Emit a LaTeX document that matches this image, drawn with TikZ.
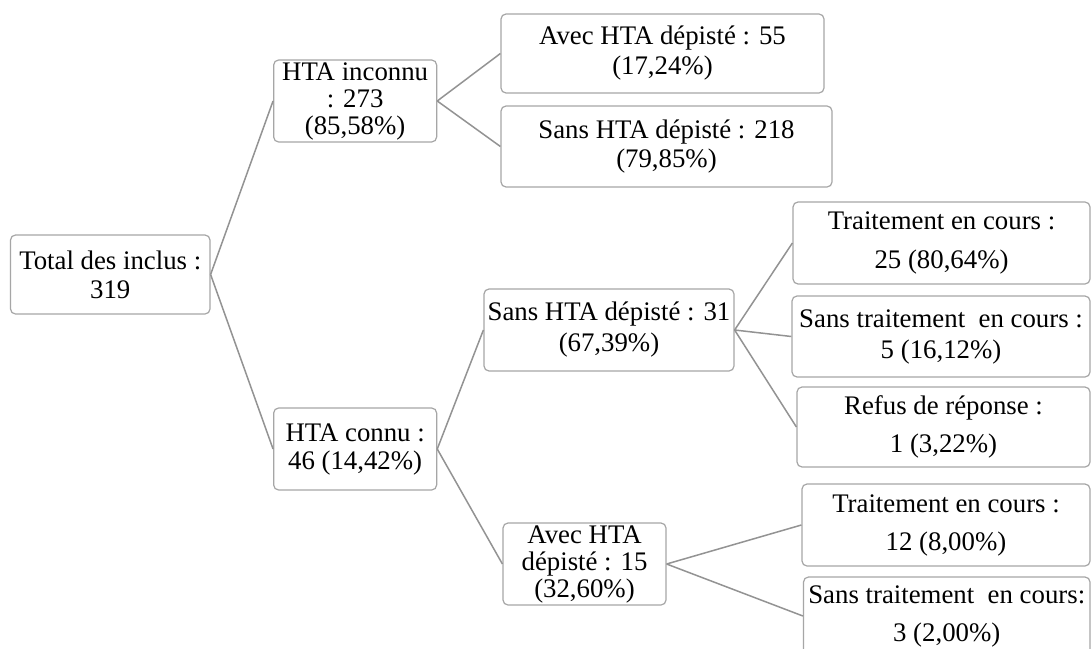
\documentclass[tikz,border=0pt]{standalone}
\usepackage{fontspec}
\setmainfont{Liberation Serif}
\begin{document}
\begin{tikzpicture}[x=0.5pt,y=-0.5pt,
  box/.style={draw=gray!70, rounded corners=2.5pt, line width=0.6pt, align=center, inner sep=0pt},
  link/.style={draw=gray!85, line width=0.75pt},
  fs/.style={font=\fontsize{13.4}{#1}\selectfont}]
\clip (0,0) rectangle (1091,648);
\fill[white] (0,0) rectangle (1091,648);
\node[box, fs=14.5pt, minimum width=99.75pt, minimum height=39.5pt] (tot) at (110.25,274.5) {Total des inclus :\\319};
\node[box, fs=13.5pt, minimum width=81.5pt, minimum height=41pt] (inc) at (355.15,101) {HTA inconnu\\: 273\\(85,58\%)};
\node[box, fs=15pt, minimum width=161.5pt, minimum height=39.5pt] (a55) at (662.5,53.5) {Avec HTA dépisté : 55\\(17,24\%)};
\node[box, fs=14.5pt, minimum width=165.5pt, minimum height=40.5pt] (s218) at (666.5,146.5) {Sans HTA dépisté : 218\\(79,85\%)};
\node[box, fs=14pt, minimum width=81.5pt, minimum height=41pt] (con) at (355.15,449) {HTA connu :\\46 (14,42\%)};
\node[box, fs=15.5pt, minimum width=125pt, minimum height=41pt] (s31) at (609,330) {Sans HTA dépisté : 31\\(67,39\%)};
\node[box, fs=13.5pt, minimum width=81.5pt, minimum height=41pt] (a15) at (584.5,564) {Avec HTA\\dépisté : 15\\(32,60\%)};
\node[box, fs=19.5pt, minimum width=148.5pt, minimum height=41pt] (t25) at (941.5,243) {Traitement en cours :\\25 (80,64\%)};
\node[box, fs=15.5pt, minimum width=149pt, minimum height=40.5pt] (st5) at (941,336.5) {Sans traitement~ en cours :\\5 (16,12\%)};
\node[box, fs=19pt, minimum width=146.5pt, minimum height=40pt] (ref) at (943.5,427) {Refus de réponse :\\1 (3,22\%)};
\node[box, fs=19pt, minimum width=144pt, minimum height=41pt] (t12) at (946,525) {Traitement en cours :\\12 (8,00\%)};
\node[box, fs=19pt, minimum width=143.25pt, minimum height=39pt] (st3) at (946.75,616) {Sans traitement~ en cours:\\3 (2,00\%)};
\draw[link] (tot.east) -- (inc.west);
\draw[link] (tot.east) -- (con.west);
\draw[link] (inc.east) -- (a55.west);
\draw[link] (inc.east) -- (s218.west);
\draw[link] (con.east) -- (s31.west);
\draw[link] (con.east) -- (a15.west);
\draw[link] (s31.east) -- (t25.west);
\draw[link] (s31.east) -- (st5.west);
\draw[link] (s31.east) -- (ref.west);
\draw[link] (a15.east) -- (t12.west);
\draw[link] (a15.east) -- (st3.west);
\end{tikzpicture}
\end{document}
